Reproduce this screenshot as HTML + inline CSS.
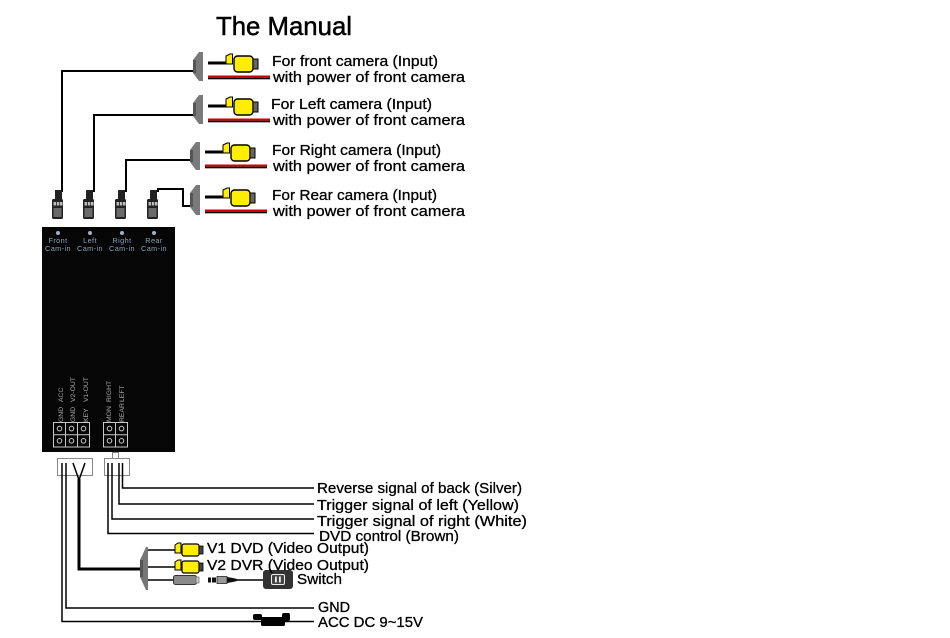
<!DOCTYPE html>
<html><head><meta charset="utf-8"><style>
html,body{margin:0;padding:0;background:#fff;}
svg{display:block;}
text{font-family:"Liberation Sans",sans-serif;fill:#000;}
.lb{font-size:15px;stroke:#000;stroke-width:0.3px;}
.sm{font-size:7.3px;fill:#8fa0b8;letter-spacing:0.4px;}
.vt{font-size:6.8px;fill:#a8a8a8;}
</style></head><body>
<svg width="950" height="638" viewBox="0 0 950 638" xmlns="http://www.w3.org/2000/svg">
<rect width="950" height="638" fill="#fff"/>
<text x="216" y="35" font-size="26" stroke="#000" stroke-width="0.5" textLength="136" lengthAdjust="spacingAndGlyphs">The Manual</text>

<!-- wires from plugs to connectors -->
<g fill="none" stroke="#000" stroke-width="2">
<polyline points="62,192 62,71 194,71"/>
<polyline points="94,192 94,115 194,115"/>
<polyline points="126,192 126,160 191,160"/>
<polyline points="158,192 158,189 183,189 183,206 191,206"/>
</g>

<!-- plugs -->
<g id="plug">
<rect x="55" y="190" width="7" height="10" fill="#222"/>
<rect x="52" y="199" width="11" height="20" rx="1.5" fill="#222"/>
<rect x="53.5" y="202" width="2.5" height="3.5" fill="#bbb"/>
<rect x="56.8" y="202" width="2.5" height="3.5" fill="#bbb"/>
<rect x="60" y="202" width="2.5" height="3.5" fill="#bbb"/>
<rect x="53.5" y="208" width="8" height="9" fill="#6a6a6a"/>
</g>
<use href="#plug" x="31"/>
<use href="#plug" x="63"/>
<use href="#plug" x="95"/>

<!-- connectors top -->
<g fill="#7a7a7a">
<polygon points="199,52 203,52 203,81 199,81 193,73 193,60"/>
<polygon points="199,95 203,95 203,124 199,124 193,116 193,103"/>
<polygon points="196,142 200,142 200,170 196,170 190,162 190,150"/>
<polygon points="196,185 200,185 200,215 196,215 190,207 190,193"/>
</g>
<g fill="#555">
<rect x="193" y="60" width="3" height="13"/>
<rect x="193" y="103" width="3" height="13"/>
<rect x="190" y="150" width="3" height="12"/>
<rect x="190" y="193" width="3" height="14"/>
</g>

<!-- camera rows -->
<g id="cam">
<rect x="208" y="61.5" width="19" height="3" fill="#000"/>
<path d="M226,56 L230,54 L232.5,54 L232.5,64 L226,64 Z" fill="#ffee00" stroke="#000" stroke-width="1"/>
<rect x="234" y="56" width="19" height="16" rx="3.5" fill="#ffee00" stroke="#000" stroke-width="1.4"/>
<rect x="253" y="59" width="5" height="10" fill="#666" stroke="#000" stroke-width="1"/>
<rect x="208" y="75.5" width="62" height="2.2" fill="#cc0000"/>
<rect x="208" y="77.7" width="62" height="1.6" fill="#000"/>
</g>
<use href="#cam" y="43"/>
<use href="#cam" x="-3" y="89"/>
<use href="#cam" x="-3" y="134"/>

<text class="lb" x="272" y="66" textLength="166" lengthAdjust="spacingAndGlyphs">For front camera (Input)</text>
<text class="lb" x="273" y="82" textLength="192" lengthAdjust="spacingAndGlyphs">with power of front camera</text>
<text class="lb" x="271" y="109" textLength="161" lengthAdjust="spacingAndGlyphs">For Left camera (Input)</text>
<text class="lb" x="273" y="125" textLength="192" lengthAdjust="spacingAndGlyphs">with power of front camera</text>
<text class="lb" x="272" y="155" textLength="169" lengthAdjust="spacingAndGlyphs">For Right camera (Input)</text>
<text class="lb" x="273" y="171" textLength="192" lengthAdjust="spacingAndGlyphs">with power of front camera</text>
<text class="lb" x="272" y="200" textLength="165" lengthAdjust="spacingAndGlyphs">For Rear camera (Input)</text>
<text class="lb" x="273" y="216" textLength="192" lengthAdjust="spacingAndGlyphs">with power of front camera</text>

<!-- main box -->
<rect x="42" y="227" width="133" height="225" fill="#060606"/>
<g fill="#9fb0cc">
<circle cx="58" cy="233" r="2"/><circle cx="90" cy="233" r="2"/><circle cx="122" cy="233" r="2"/><circle cx="154" cy="233" r="2"/>
</g>
<g text-anchor="middle">
<text class="sm" x="58" y="243">Front</text><text class="sm" x="58" y="251">Cam-in</text>
<text class="sm" x="90" y="243">Left</text><text class="sm" x="90" y="251">Cam-in</text>
<text class="sm" x="122" y="243">Right</text><text class="sm" x="122" y="251">Cam-in</text>
<text class="sm" x="154" y="243">Rear</text><text class="sm" x="154" y="251">Cam-in</text>
</g>
<!-- vertical labels -->
<g>
<text class="vt" transform="translate(63,422) rotate(-90)">GND</text>
<text class="vt" transform="translate(63,402) rotate(-90)">ACC</text>
<text class="vt" transform="translate(75,422) rotate(-90)">GND</text>
<text class="vt" transform="translate(75,402) rotate(-90)">V2-OUT</text>
<text class="vt" transform="translate(88,422) rotate(-90)">KEY</text>
<text class="vt" transform="translate(88,402) rotate(-90)">V1-OUT</text>
<text class="vt" transform="translate(111,422) rotate(-90)">MON</text>
<text class="vt" transform="translate(111,402) rotate(-90)">RIGHT</text>
<text class="vt" transform="translate(124,422) rotate(-90)">REAR</text>
<text class="vt" transform="translate(124,402) rotate(-90)">LEFT</text>
</g>
<!-- terminal grid -->
<g fill="none" stroke="#c8c8c8" stroke-width="1">
<rect x="53.5" y="422.5" width="36" height="24.5"/>
<line x1="65.5" y1="422.5" x2="65.5" y2="447"/><line x1="77.5" y1="422.5" x2="77.5" y2="447"/>
<line x1="53.5" y1="434.7" x2="89.5" y2="434.7"/>
<rect x="103.5" y="422.5" width="24" height="24.5"/>
<line x1="115.5" y1="422.5" x2="115.5" y2="447"/>
<line x1="103.5" y1="434.7" x2="127.5" y2="434.7"/>
<circle cx="59.5" cy="428.6" r="2.3"/><circle cx="71.5" cy="428.6" r="2.3"/><circle cx="83.5" cy="428.6" r="2.3"/>
<circle cx="59.5" cy="440.8" r="2.3"/><circle cx="71.5" cy="440.8" r="2.3"/><circle cx="83.5" cy="440.8" r="2.3"/>
<circle cx="109.5" cy="428.6" r="2.3"/><circle cx="121.5" cy="428.6" r="2.3"/>
<circle cx="109.5" cy="440.8" r="2.3"/><circle cx="121.5" cy="440.8" r="2.3"/>
</g>

<!-- bottom plug housings -->
<g fill="#fff" stroke="#888" stroke-width="1">
<rect x="57.5" y="458.5" width="35" height="17"/>
<rect x="104.5" y="458.5" width="25" height="17"/>
<rect x="112.5" y="452.5" width="6" height="6"/>
</g>

<!-- bottom wires -->
<g fill="none" stroke="#000" stroke-width="1.5">
<polyline points="62,463 62,621.5 314,621.5"/>
<polyline points="66,463 66,608 314,608"/>
<polyline points="73,463 79,480 85,463"/>
<polyline points="108,463 108,533.5 314,533.5"/>
<polyline points="112,463 112,519 314,519"/>
<polyline points="119,463 119,504 314,504"/>
<polyline points="122.5,463 122.5,488 314,488"/>
<line x1="148" y1="550" x2="176" y2="550"/>
<line x1="148" y1="567" x2="176" y2="567"/>
<line x1="148" y1="580" x2="174" y2="580"/>
<line x1="236" y1="580" x2="264" y2="580"/>
</g>
<polyline points="79,479 79,569 141,569" fill="none" stroke="#000" stroke-width="3"/>

<!-- bottom connector -->
<polygon points="146,547 148,547 148,590 146,590 140,577 140,560" fill="#777"/>
<rect x="140" y="560" width="3" height="17" fill="#555"/>

<!-- V1 / V2 rca -->
<g id="rca">
<path d="M175,545 L178,543 L181,543 L181,553 L175,553 Z" fill="#ffee00" stroke="#000" stroke-width="1"/>
<rect x="182" y="544" width="17" height="12" rx="2" fill="#ffee00" stroke="#000" stroke-width="1.2"/>
<rect x="199" y="546" width="4" height="8" fill="#444" stroke="#000" stroke-width="0.8"/>
</g>
<use href="#rca" y="17"/>

<!-- switch row -->
<rect x="173.5" y="575.5" width="23" height="9" rx="2" fill="#8a8a8a" stroke="#333" stroke-width="1"/>
<rect x="196" y="577" width="3" height="6" fill="#ccc" stroke="#555" stroke-width="0.6"/>
<rect x="208" y="577.5" width="3" height="5" fill="#111"/>
<rect x="212" y="577.5" width="4" height="5" fill="#111"/>
<rect x="217" y="576.5" width="10" height="7" fill="#999" stroke="#222" stroke-width="0.8"/>
<path d="M227,577 L233,578 L237,579 L237,581 L233,582 L227,583 Z" fill="#111"/>
<rect x="263" y="570" width="30" height="19" rx="3" fill="#333"/>
<rect x="271.5" y="574.5" width="13" height="10" rx="1.5" fill="#444" stroke="#eee" stroke-width="1"/>
<rect x="275" y="576.5" width="1.8" height="6" fill="#eee"/>
<rect x="279" y="576.5" width="1.8" height="6" fill="#eee"/>

<!-- fuse -->
<rect x="253" y="614" width="9" height="6" rx="2" fill="#000"/>
<rect x="261" y="617" width="24" height="9" rx="1.5" fill="#000"/>
<rect x="282" y="613" width="8" height="8" rx="2" fill="#000"/>

<!-- labels -->
<text class="lb" x="317" y="493" textLength="205" lengthAdjust="spacingAndGlyphs">Reverse signal of back (Silver)</text>
<text class="lb" x="317" y="510" textLength="202" lengthAdjust="spacingAndGlyphs">Trigger signal of left (Yellow)</text>
<text class="lb" x="317" y="526" textLength="210" lengthAdjust="spacingAndGlyphs">Trigger signal of right (White)</text>
<text class="lb" x="319" y="541" textLength="140" lengthAdjust="spacingAndGlyphs">DVD control (Brown)</text>
<text class="lb" x="207" y="553" textLength="162" lengthAdjust="spacingAndGlyphs">V1 DVD (Video Output)</text>
<text class="lb" x="207" y="570" textLength="162" lengthAdjust="spacingAndGlyphs">V2 DVR (Video Output)</text>
<text class="lb" x="297" y="584" textLength="45" lengthAdjust="spacingAndGlyphs">Switch</text>
<text class="lb" x="318" y="612" textLength="32" lengthAdjust="spacingAndGlyphs">GND</text>
<text class="lb" x="318" y="627" textLength="105" lengthAdjust="spacingAndGlyphs">ACC DC 9~15V</text>
</svg>
</body></html>
